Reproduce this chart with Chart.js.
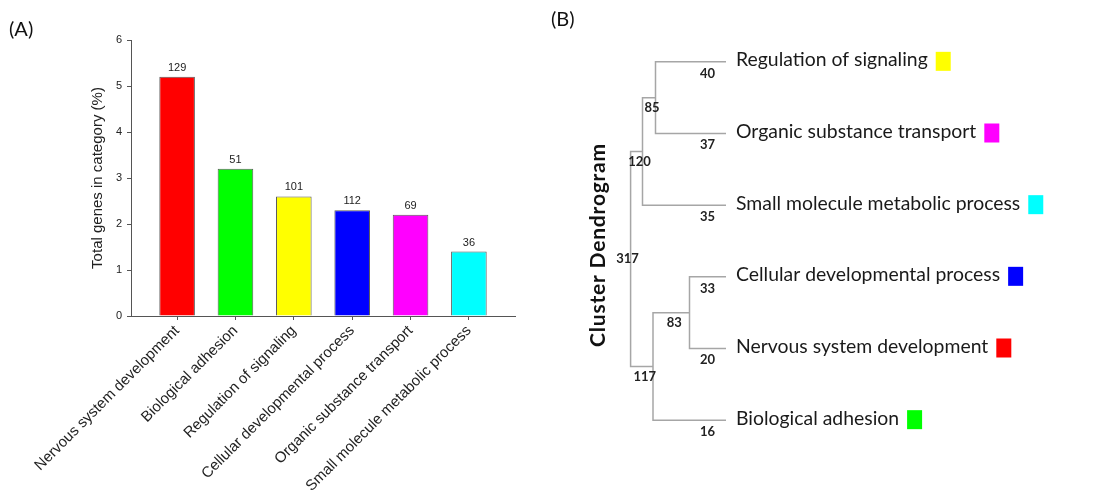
<!DOCTYPE html>
<html>
<head>
<meta charset="utf-8">
<script src="https://cdn.jsdelivr.net/npm/chart.js@4.4.0/dist/chart.umd.min.js"></script>
<style>
  body { margin: 0; background: #fff; }
  #wrap { position: relative; width: 1109px; height: 493px; overflow: hidden; }
  #bars { position: absolute; left: 0; top: 0; }
  #dendro { position: absolute; left: 550px; top: 0; }
</style>
</head>
<body>
<div id="wrap">
  <canvas id="bars" width="550" height="493"></canvas>
  <canvas id="dendro" width="559" height="493"></canvas>
</div>
<script>
// (A) bar chart data
const categories = ['Nervous system development', 'Biological adhesion', 'Regulation of signaling',
  'Cellular developmental process', 'Organic substance transport', 'Small molecule metabolic process'];
const percents = [5.2, 3.2, 2.6, 2.3, 2.2, 1.4];
const geneCounts = [129, 51, 101, 112, 69, 36];
const barColors = ['#ff0000', '#00ff00', '#ffff00', '#0000ff', '#ff00ff', '#00ffff'];
const yTicks = [0, 1, 2, 3, 4, 5, 6];

// (B) dendrogram data, leaves top to bottom
const leafNames = ['Regulation of signaling', 'Organic substance transport', 'Small molecule metabolic process',
  'Cellular developmental process', 'Nervous system development', 'Biological adhesion'];
const leafCounts = [40, 37, 35, 33, 20, 16];
const leafColors = ['#ffff00', '#ff00ff', '#00ffff', '#0000ff', '#ff0000', '#00ff00'];
// merges: L = leaf index, N = merge index
const mergeLeft = ['L0', 'N0', 'L3', 'N2', 'N1'];
const mergeRight = ['L1', 'L2', 'L4', 'L5', 'N3'];
const mergeHeight = [70.5, 83.5, 36.5, 73, 95.4];
const mergeCounts = [85, 120, 83, 117, 317];

const sans = "'Liberation Sans', Arial, sans-serif";
Chart.defaults.font.family = sans;

const valueLabels = {
  id: 'valueLabels',
  afterDatasetsDraw(chart) {
    const ctx = chart.ctx;
    const meta = chart.getDatasetMeta(0);
    ctx.save();
    ctx.font = '11px ' + sans;
    ctx.fillStyle = '#222';
    ctx.textAlign = 'center';
    ctx.textBaseline = 'alphabetic';
    meta.data.forEach((bar, i) => ctx.fillText(geneCounts[i], bar.x, bar.y - 6));
    ctx.font = '20px Lato';
    ctx.textAlign = 'left';
    ctx.textBaseline = 'middle';
    ctx.fillStyle = '#111';
    ctx.fillText('(A)', 9, 30);
    ctx.restore();
  }
};

const axisGrid = {drawOnChartArea: false, drawTicks: true, tickLength: 4, color: '#555', offset: false};
const axisBorder = {display: true, color: '#555', width: 1};

new Chart(document.getElementById('bars'), {
  type: 'bar',
  data: {
    datasets: [{
      data: percents.map((v, i) => ({x: i, y: v})),
      backgroundColor: barColors,
      borderColor: '#5a5a5a',
      borderWidth: 1,
      barPercentage: 0.61,
      categoryPercentage: 1
    }]
  },
  options: {
    responsive: false,
    animation: false,
    layout: {padding: {left: 0, right: 35, top: 40, bottom: 0}},
    plugins: {legend: {display: false}, tooltip: {enabled: false}},
    scales: {
      x: {
        type: 'linear',
        offset: false,
        min: -0.79,
        max: 5.79,
        afterBuildTicks: s => { s.ticks = categories.map((c, i) => ({value: i})); },
        afterFit: s => { s.height = 177; },
        grid: axisGrid,
        border: axisBorder,
        ticks: {
          autoSkip: false, minRotation: 45, maxRotation: 45, padding: 2,
          color: '#222', font: {size: 15},
          callback: v => categories[v]
        }
      },
      y: {
        min: 0,
        max: 6,
        afterBuildTicks: s => { s.ticks = yTicks.map(v => ({value: v})); },
        afterFit: s => { s.width = 131; },
        grid: axisGrid,
        border: axisBorder,
        ticks: {color: '#222', font: {size: 11}, padding: 5},
        title: {
          display: true, text: 'Total genes in category (%)',
          color: '#222', font: {size: 15}, padding: {top: 89, bottom: 0}
        }
      }
    }
  },
  plugins: [valueLabels]
});

// dendrogram node positions: h = merge height, y = leaf row
const pos = {};
leafNames.forEach((n, i) => { pos['L' + i] = {h: 0, y: i}; });
mergeHeight.forEach((h, k) => {
  pos['N' + k] = {h: h, y: (pos[mergeLeft[k]].y + pos[mergeRight[k]].y) / 2};
});
const parentOf = id => {
  const k = mergeLeft.indexOf(id) >= 0 ? mergeLeft.indexOf(id) : mergeRight.indexOf(id);
  return k >= 0 ? pos['N' + k] : null;
};

const branchSets = mergeHeight.map((h, k) => {
  const a = pos[mergeLeft[k]], b = pos[mergeRight[k]];
  return {
    data: [{x: a.h, y: a.y}, {x: h, y: a.y}, {x: h, y: b.y}, {x: b.h, y: b.y}],
    showLine: true, borderColor: '#a6a6a6', borderWidth: 1.5,
    pointRadius: 0, tension: 0, fill: false, clip: false
  };
});

const dendroLabels = {
  id: 'dendroLabels',
  afterDatasetsDraw(chart) {
    const ctx = chart.ctx;
    const xs = chart.scales.x, ys = chart.scales.y;
    ctx.save();
    // leaves
    leafNames.forEach((name, i) => {
      const x = xs.getPixelForValue(0), y = ys.getPixelForValue(i);
      ctx.font = '19.4px Lato';
      ctx.fillStyle = '#1a1a1a';
      ctx.textAlign = 'left';
      ctx.textBaseline = 'alphabetic';
      ctx.fillText(name, x + 10, y + 4.5);
      const w = ctx.measureText(name).width;
      ctx.fillStyle = leafColors[i];
      ctx.fillRect(x + 10 + w + 8, y - 10, 15, 19);
      ctx.font = 'bold 13px Lato';
      ctx.fillStyle = '#222';
      ctx.textAlign = 'center';
      ctx.textBaseline = 'middle';
      ctx.fillText(leafCounts[i], x - 18.5, y + 11.5);
    });
    // merge counts
    ctx.font = 'bold 13px Lato';
    ctx.fillStyle = '#222';
    ctx.textAlign = 'center';
    ctx.textBaseline = 'middle';
    mergeCounts.forEach((c, k) => {
      const node = pos['N' + k], parent = parentOf('N' + k);
      const nx = xs.getPixelForValue(node.h), ny = ys.getPixelForValue(node.y);
      if (parent) {
        const px = xs.getPixelForValue(parent.h);
        ctx.fillText(c, (px + nx) / 2 + 3, ny + 10.5);
      } else {
        ctx.fillText(c, nx - 3, ny);
      }
    });
    // axis title and panel letter
    ctx.font = 'bold 21px Lato';
    ctx.letterSpacing = '0.8px';
    ctx.fillStyle = '#111';
    ctx.translate(48, 245);
    ctx.rotate(-Math.PI / 2);
    ctx.fillText('Cluster Dendrogram', 0, 0);
    ctx.restore();
    ctx.save();
    ctx.font = '20px Lato';
    ctx.fillStyle = '#111';
    ctx.textBaseline = 'middle';
    ctx.fillText('(B)', 1, 20);
    ctx.restore();
  }
};

new Chart(document.getElementById('dendro'), {
  type: 'scatter',
  data: {datasets: branchSets},
  options: {
    responsive: false,
    animation: false,
    layout: {padding: {left: 76, right: 383, top: 26, bottom: 37}},
    plugins: {legend: {display: false}, tooltip: {enabled: false}},
    scales: {
      x: {type: 'linear', reverse: true, min: 0, max: 100, display: false},
      y: {type: 'linear', reverse: true, min: -0.5, max: 5.5, display: false}
    }
  },
  plugins: [dendroLabels]
});
</script>
</body>
</html>
